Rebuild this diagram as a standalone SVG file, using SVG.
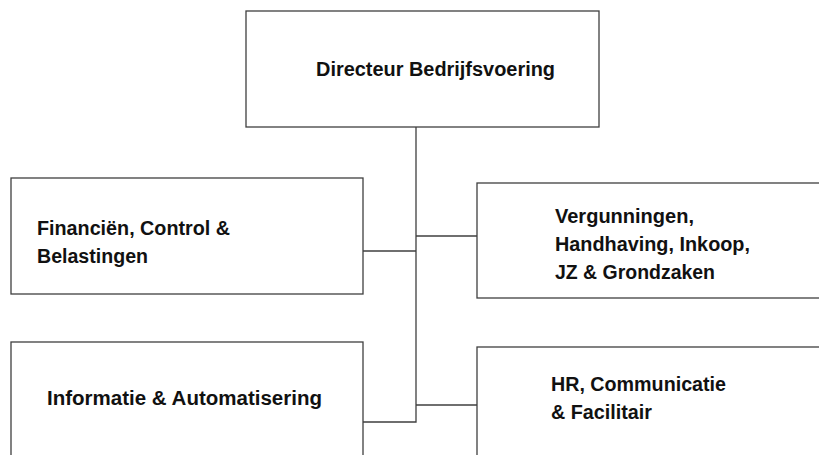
<svg xmlns="http://www.w3.org/2000/svg" width="819" height="455" viewBox="0 0 819 455">
<style>
.box{fill:#ffffff;stroke:#3f3f3f;stroke-width:1.3}
.lbl{font-family:"Liberation Sans",Arial,sans-serif;font-weight:bold;font-size:19.5px;fill:#111111}
.con{fill:none;stroke:#3f3f3f;stroke-width:1.3}
</style>
<rect width="819" height="455" fill="#ffffff"/>
<g id="connectors">
<path class="con" d="M416,127 V422 H363"/>
<path class="con" d="M363,251 H416"/>
<path class="con" d="M416,236 H477"/>
<path class="con" d="M416,405 H477"/>
</g>
<g id="node-directeur">
<rect class="box" x="246" y="11" width="353" height="116"/>
<text class="lbl" x="316" y="76" textLength="239" lengthAdjust="spacingAndGlyphs">Directeur Bedrijfsvoering</text>
</g>
<g id="node-financien">
<rect class="box" x="11" y="178" width="352" height="116"/>
<text class="lbl" x="37" y="235" textLength="193" lengthAdjust="spacingAndGlyphs">Financiën, Control &amp;</text>
<text class="lbl" x="37" y="263" textLength="111" lengthAdjust="spacingAndGlyphs">Belastingen</text>
</g>
<g id="node-vergunningen">
<rect class="box" x="477" y="183" width="360" height="115"/>
<text class="lbl" x="555" y="223" textLength="139" lengthAdjust="spacingAndGlyphs">Vergunningen,</text>
<text class="lbl" x="555" y="251" textLength="195" lengthAdjust="spacingAndGlyphs">Handhaving, Inkoop,</text>
<text class="lbl" x="555" y="279" textLength="160" lengthAdjust="spacingAndGlyphs">JZ &amp; Grondzaken</text>
</g>
<g id="node-informatie">
<rect class="box" x="11" y="342" width="352" height="130"/>
<text class="lbl" x="47" y="405" textLength="275" lengthAdjust="spacingAndGlyphs">Informatie &amp; Automatisering</text>
</g>
<g id="node-hr">
<rect class="box" x="477" y="347" width="360" height="130"/>
<text class="lbl" x="551" y="391" textLength="175" lengthAdjust="spacingAndGlyphs">HR, Communicatie</text>
<text class="lbl" x="551" y="419" textLength="101" lengthAdjust="spacingAndGlyphs">&amp; Facilitair</text>
</g>
</svg>
